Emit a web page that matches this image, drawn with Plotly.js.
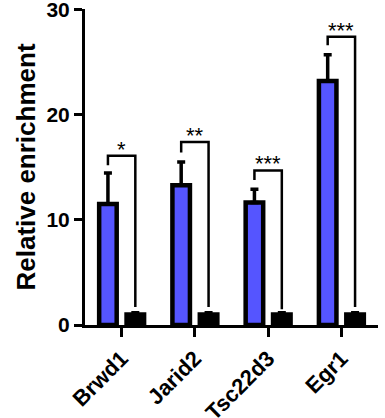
<!DOCTYPE html>
<html>
<head>
<meta charset="utf-8">
<script src="https://cdn.plot.ly/plotly-3.0.1.min.js"></script>
<style>html,body{margin:0;padding:0;background:#fff;}#chart{width:385px;height:418px;}#status{position:absolute;left:150px;top:60px;font:1px monospace;color:#fff;}</style>
</head>
<body>
<div id="chart"></div>
<div id="status"></div>
<script>
// ---- data ----
const genes = ["Brwd1", "Jarid2", "Tsc22d3", "Egr1"];
const treatedValues = [11.5, 13.3, 11.65, 23.2];
const treatedErrUp = [2.95, 2.2, 1.25, 2.5];
const controlValues = [1.0, 1.0, 1.0, 1.0];
const controlErrUp = [0.2, 0.2, 0.2, 0.2];
const bracketTop = [16.1, 17.4, 14.7, 27.4];
const bracketLeftBottom = [15.2, 16.4, 13.8, 26.6];
const bracketRightBottom = [1.7, 1.7, 1.5, 1.7];
const stars = ["*", "**", "***", "***"];
const yTicks = [0, 10, 20, 30];

const barOffset = 0.187;  // half distance between paired bar centres (category units)
const fontFam = "Liberation Sans, Arial, Helvetica, sans-serif";

const traces = [
  {
    type: "bar", x: genes, y: treatedValues, name: "treated",
    marker: {color: "#5555FF", line: {color: "#000", width: 4.5}},
    error_y: {type: "data", symmetric: false, array: treatedErrUp,
              arrayminus: treatedErrUp.map(() => 0), thickness: 3.5, width: 4, color: "#000"}
  },
  {
    type: "bar", x: genes, y: controlValues, name: "control",
    marker: {color: "#000", line: {color: "#000", width: 4.5}},
    error_y: {type: "data", symmetric: false, array: controlErrUp,
              arrayminus: controlErrUp.map(() => 0), thickness: 3, width: 4, color: "#000"}
  }
];

const shapes = genes.map((g, i) => ({
  type: "path", xref: "x", yref: "y",
  path: `M ${i - barOffset},${bracketLeftBottom[i]} L ${i - barOffset},${bracketTop[i]} L ${i + barOffset},${bracketTop[i]} L ${i + barOffset},${bracketRightBottom[i]}`,
  line: {color: "#000", width: 2.5}
}));

const annotations = genes.map((g, i) => ({
  x: g, y: bracketTop[i], xref: "x", yref: "y", text: stars[i], showarrow: false,
  yanchor: "bottom", yshift: -8,
  font: {family: fontFam, size: 22, color: "#000"}
}));

const layout = {
  width: 385, height: 418,
  margin: {l: 85, r: 7, t: 9, b: 93},
  paper_bgcolor: "#fff", plot_bgcolor: "#fff",
  showlegend: false,
  barmode: "group", bargap: 0.252, bargroupgap: 0.36,
  xaxis: {
    type: "category", showline: true, linecolor: "#000", linewidth: 3,
    ticks: "outside", ticklen: 9, tickwidth: 3, tickcolor: "#000",
    tickangle: -45, showgrid: false, zeroline: false,
    tickfont: {family: fontFam, size: 22, color: "#000", weight: "bold"}
  },
  yaxis: {
    range: [0, 30.05], tickvals: yTicks, ticktext: yTicks.map(String),
    ticklabeloverflow: "allow",
    showline: true, linecolor: "#000", linewidth: 3,
    ticks: "outside", ticklen: 8, tickwidth: 3, tickcolor: "#000",
    showgrid: false, zeroline: false,
    tickfont: {family: fontFam, size: 21, color: "#000", weight: "bold"},
    title: {text: "Relative enrichment", standoff: 4,
            font: {family: fontFam, size: 26, color: "#000", weight: "bold"}}
  },
  shapes: shapes,
  annotations: annotations
};

Plotly.newPlot("chart", traces, layout, {displayModeBar: false, staticPlot: true})
  .then(gd => Plotly.relayout(gd, {"xaxis.tickangle": -45}))
  .then(gd => {
    const t = gd.querySelector(".xtick text");
    const bb = t ? t.getBoundingClientRect() : {left: 0, top: 0};
    document.getElementById("status").textContent =
      "ready " + gd._fullLayout.xaxis.tickangle + " " + bb.left.toFixed(0) + "," + bb.top.toFixed(0);
  });
</script>
</body>
</html>
